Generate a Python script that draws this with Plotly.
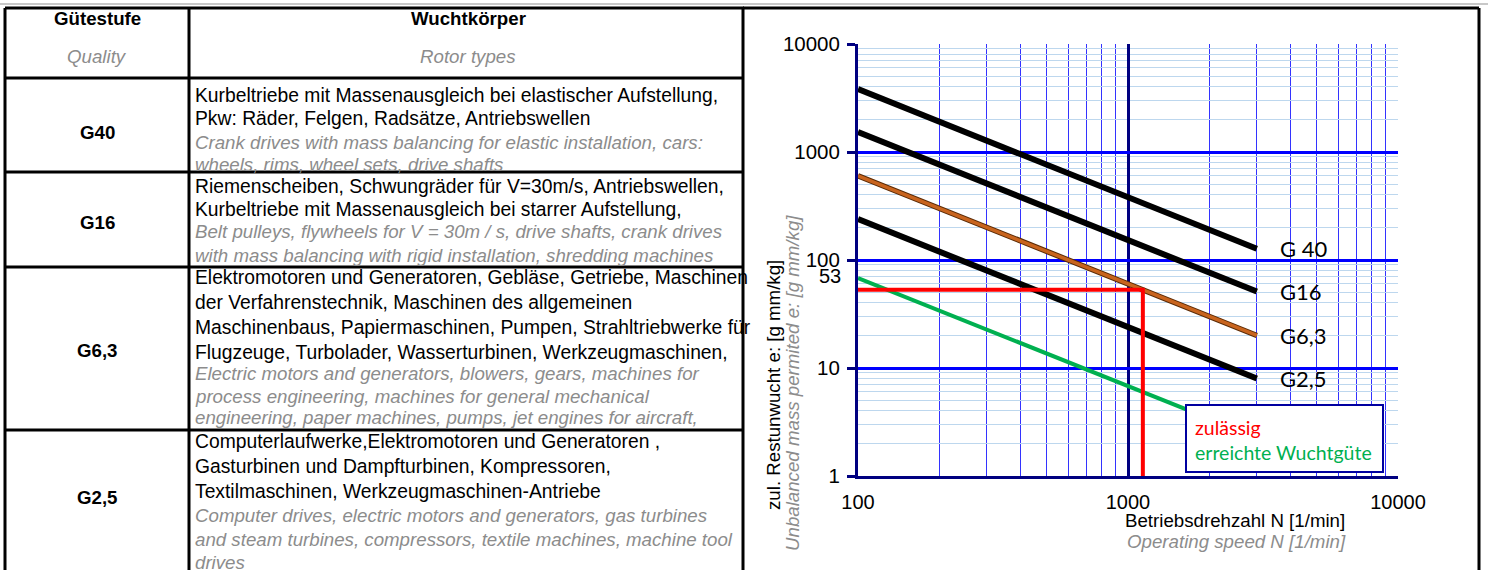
import math
import plotly.graph_objects as go

W, H = 1488, 570

# ---------------- data ----------------
speeds = [100, 3000]
g40 = [3820, 127]
g16 = [1528, 51]
g63 = [602, 20]
g25 = [239, 8]
green_e = [68, 2.27]
red_n = [100, 1135, 1135]
red_e = [53, 53, 1]
red_label = "53"

x_ticks = [100, 1000, 10000]
x_ticktext = ["100", "1000", "10000"]
y_ticks = [1, 10, 100, 1000, 10000]
y_ticktext = ["1", "10", "100", "1000", "10000"]
x_minor = [200, 300, 400, 500, 600, 700, 800, 900, 2000, 3000, 4000, 5000, 6000, 7000, 8000, 9000]
y_minor = [m * d for d in [1, 10, 100, 1000] for m in range(2, 10)]

line_labels = ["G 40", "G16", "G6,3", "G2,5"]

table_head_de = ["Gütestufe", "Wuchtkörper"]
table_head_en = ["Quality", "Rotor types"]
grades = ["G40", "G16", "G6,3", "G2,5"]
rows_de = [
    ["Kurbeltriebe mit Massenausgleich bei elastischer Aufstellung,",
     "Pkw: Räder, Felgen, Radsätze, Antriebswellen"],
    ["Riemenscheiben, Schwungräder für V=30m/s, Antriebswellen,",
     "Kurbeltriebe mit Massenausgleich bei starrer Aufstellung,"],
    ["Elektromotoren und Generatoren, Gebläse, Getriebe, Maschinen",
     "der Verfahrenstechnik, Maschinen des allgemeinen",
     "Maschinenbaus, Papiermaschinen, Pumpen, Strahltriebwerke für",
     "Flugzeuge, Turbolader, Wasserturbinen, Werkzeugmaschinen,"],
    ["Computerlaufwerke,Elektromotoren und Generatoren ,",
     "Gasturbinen und Dampfturbinen, Kompressoren,",
     "Textilmaschinen, Werkzeugmaschinen-Antriebe"],
]
rows_en = [
    ["Crank drives with mass balancing for elastic installation, cars:",
     "wheels, rims, wheel sets, drive shafts"],
    ["Belt pulleys, flywheels for V = 30m / s, drive shafts, crank drives",
     "with mass balancing with rigid installation, shredding machines"],
    ["Electric motors and generators, blowers, gears, machines for",
     "process engineering, machines for general mechanical",
     "engineering, paper machines, pumps, jet engines for aircraft,"],
    ["Computer drives, electric motors and generators, gas turbines",
     "and steam turbines, compressors, textile machines, machine tool",
     "drives"],
]

# ---------------- layout helpers (pixel -> paper) ----------------
def px(x):
    return x / W

def py(y):
    return 1 - y / H

ARIAL = "Liberation Sans, Arial, sans-serif"
CALIBRI = "Lato, Carlito, Calibri, sans-serif"
GRAY = "#8C8C8C"
NAVY = "#000080"
TFONT_DE = 19.3
TFONT_EN = 18.7

fig = go.Figure()

# G lines
for vals in (g40, g16):
    fig.add_trace(go.Scatter(x=speeds, y=vals, mode="lines",
                             line=dict(color="black", width=6),
                             showlegend=False, hoverinfo="skip"))
# G6,3 brown with dark outline
fig.add_trace(go.Scatter(x=speeds, y=g63, mode="lines",
                         line=dict(color="#5A2A05", width=5.5),
                         showlegend=False, hoverinfo="skip"))
fig.add_trace(go.Scatter(x=speeds, y=g63, mode="lines",
                         line=dict(color="#C8641E", width=3.5),
                         showlegend=False, hoverinfo="skip"))
fig.add_trace(go.Scatter(x=speeds, y=g25, mode="lines",
                         line=dict(color="black", width=6),
                         showlegend=False, hoverinfo="skip"))
# achieved (green)
fig.add_trace(go.Scatter(x=speeds, y=green_e, mode="lines",
                         line=dict(color="#00B050", width=4),
                         showlegend=False, hoverinfo="skip"))
# permitted (red)
fig.add_trace(go.Scatter(x=red_n, y=red_e, mode="lines",
                         line=dict(color="#FF0000", width=4),
                         showlegend=False, hoverinfo="skip"))

ann = []
shapes = []

# line labels at line ends
for lab, vals in zip(line_labels, (g40, g16, g63, g25)):
    ann.append(dict(x=math.log10(speeds[-1]), y=math.log10(vals[-1]), xref="x", yref="y",
                    text=lab, showarrow=False, xanchor="left", yanchor="middle",
                    xshift=21, yshift=0, font=dict(family=CALIBRI, size=22, color="black")))

# "53" label
ann.append(dict(x=px(843), y=math.log10(red_e[0]), xref="paper", yref="y", text=red_label,
                showarrow=False, xanchor="right", yanchor="middle", yshift=14,
                font=dict(family=ARIAL, size=20, color="black")))

# legend box
shapes.append(dict(type="rect", xref="paper", yref="paper", x0=px(1186), x1=px(1383),
                   y0=py(472), y1=py(405), fillcolor="white",
                   line=dict(color="#0000A0", width=2), layer="above"))
ann.append(dict(x=px(1193), y=py(427), xref="paper", yref="paper", text="zulässig",
                showarrow=False, xanchor="left", yanchor="middle",
                font=dict(family=CALIBRI, size=19.5, color="#FF0000")))
ann.append(dict(x=px(1193), y=py(452), xref="paper", yref="paper", text="erreichte Wuchtgüte",
                showarrow=False, xanchor="left", yanchor="middle",
                font=dict(family=CALIBRI, size=19.5, color="#00B050")))

# axis titles
ann.append(dict(x=px(1235), y=py(520), xref="paper", yref="paper",
                text="Betriebsdrehzahl N [1/min]", showarrow=False,
                xanchor="center", yanchor="middle",
                font=dict(family=ARIAL, size=18.7, color="black")))
ann.append(dict(x=px(1236), y=py(541), xref="paper", yref="paper",
                text="<i>Operating speed N [1/min]</i>", showarrow=False,
                xanchor="center", yanchor="middle",
                font=dict(family=ARIAL, size=18.7, color=GRAY)))
ann.append(dict(x=px(773), y=py(385), xref="paper", yref="paper",
                text="zul. Restunwucht e: [g mm/kg]", showarrow=False, textangle=-90,
                xanchor="center", yanchor="middle",
                font=dict(family=ARIAL, size=18.7, color="black")))
ann.append(dict(x=px(792), y=py(383), xref="paper", yref="paper",
                text="<i>Unbalanced mass permited e: [g mm/kg]</i>", showarrow=False,
                textangle=-90, xanchor="center", yanchor="middle",
                font=dict(family=ARIAL, size=18.7, color=GRAY)))

# ---------------- table ----------------
TX0, TX1, TXC = 5, 744, 189
row_lines = [8, 78, 172, 267, 430]
shapes.append(dict(type="line", xref="paper", yref="paper", x0=0, x1=1,
                   y0=py(4), y1=py(4), line=dict(color="#C8C8C8", width=2)))
for yl in row_lines:
    shapes.append(dict(type="line", xref="paper", yref="paper", x0=px(TX0), x1=px(TX1),
                       y0=py(yl), y1=py(yl), line=dict(color="black", width=3)))
for xl in (TX0, TXC):
    shapes.append(dict(type="line", xref="paper", yref="paper", x0=px(xl), x1=px(xl),
                       y0=py(8), y1=0, line=dict(color="black", width=3)))
# chart frame
shapes.append(dict(type="line", xref="paper", yref="paper", x0=px(743), x1=px(1479),
                   y0=py(8), y1=py(8), line=dict(color="black", width=3)))
for xl in (743, 1479):
    shapes.append(dict(type="line", xref="paper", yref="paper", x0=px(xl), x1=px(xl),
                       y0=py(8), y1=0, line=dict(color="black", width=3)))

# headers
ann.append(dict(x=px(97), y=py(19), xref="paper", yref="paper", text="<b>" + table_head_de[0] + "</b>",
                showarrow=False, xanchor="center", yanchor="middle",
                font=dict(family=ARIAL, size=18.7, color="black")))
ann.append(dict(x=px(97), y=py(57), xref="paper", yref="paper", text="<i>" + table_head_en[0] + "</i>",
                showarrow=False, xanchor="center", yanchor="middle",
                font=dict(family=ARIAL, size=18.7, color=GRAY)))
ann.append(dict(x=px(468), y=py(19), xref="paper", yref="paper", text="<b>" + table_head_de[1] + "</b>",
                showarrow=False, xanchor="center", yanchor="middle",
                font=dict(family=ARIAL, size=18.7, color="black")))
ann.append(dict(x=px(468), y=py(57), xref="paper", yref="paper", text="<i>" + table_head_en[1] + "</i>",
                showarrow=False, xanchor="center", yanchor="middle",
                font=dict(family=ARIAL, size=18.7, color=GRAY)))

grade_y = [132, 222, 350, 497]
line_y = [
    [96, 119, 142, 164],
    [186, 209, 232, 255],
    [277, 302, 327, 352, 373, 396, 418],
    [441, 466, 491, 515, 539, 562],
]
for gi, g in enumerate(grades):
    ann.append(dict(x=px(97), y=py(grade_y[gi]), xref="paper", yref="paper",
                    text="<b>" + g + "</b>", showarrow=False, xanchor="center", yanchor="middle",
                    font=dict(family=ARIAL, size=18.7, color="black")))
    texts = ([(t, "black", False) for t in rows_de[gi]]
             + [(t, GRAY, True) for t in rows_en[gi]])
    for (t, c, it), yy in zip(texts, line_y[gi]):
        ann.append(dict(x=px(193), y=py(yy), xref="paper", yref="paper",
                        text=("<i>" + t + "</i>") if it else t, showarrow=False,
                        xanchor="left", yanchor="middle",
                        font=dict(family=ARIAL, size=TFONT_EN if it else TFONT_DE, color=c)))

fig.update_layout(
    width=W, height=H, autosize=False,
    margin=dict(l=0, r=0, t=0, b=0, pad=0, autoexpand=False),
    paper_bgcolor="white", plot_bgcolor="white",
    showlegend=False,
    xaxis=dict(type="log", range=[2, 4], domain=[px(858), px(1398)],
               tickvals=x_ticks, ticktext=x_ticktext, automargin=False,
               tickfont=dict(family=ARIAL, size=20, color="black"),
               showgrid=True, gridcolor=NAVY, gridwidth=3,
               showline=True, linecolor=NAVY, linewidth=3,
               ticks="", ticklabelstandoff=6,
               minor=dict(tickvals=x_minor, showgrid=True,
                          gridcolor="rgba(0,0,255,0.8)", gridwidth=1, ticks=""),
               zeroline=False, fixedrange=True),
    yaxis=dict(type="log", range=[0, 4], domain=[py(476), py(44)],
               tickvals=y_ticks, ticktext=y_ticktext, automargin=False,
               tickfont=dict(family=ARIAL, size=20.5, color="black"),
               showgrid=True, gridcolor="#0000FF", gridwidth=3,
               showline=True, linecolor=NAVY, linewidth=3,
               ticks="outside", ticklen=8, tickwidth=3, tickcolor=NAVY,
               ticklabelstandoff=3,
               minor=dict(tickvals=y_minor, showgrid=True,
                          gridcolor="#BDD7EE", gridwidth=1, ticks=""),
               zeroline=False, fixedrange=True),
    shapes=shapes,
    annotations=ann,
)

fig.write_html("out.html", config={"displayModeBar": False},
               post_script="document.body.style.margin='0';document.body.style.overflow='hidden';")
